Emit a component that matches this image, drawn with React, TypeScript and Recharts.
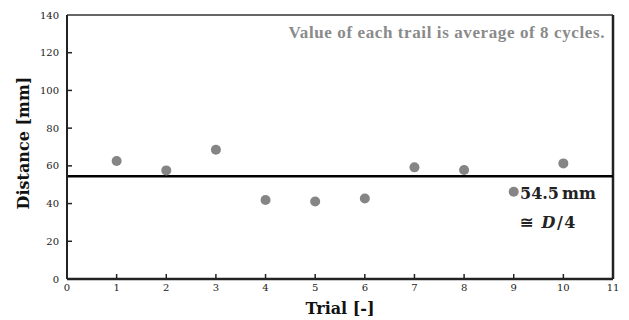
import React from 'react';
import { ScatterChart, Scatter, XAxis, YAxis, ReferenceLine } from 'recharts';

// Trial numbers and averaged distance per trial [mm]
const trials = [1, 2, 3, 4, 5, 6, 7, 8, 9, 10];
const distances = [62.6, 57.6, 68.5, 41.9, 41.1, 42.7, 59.2, 57.8, 46.3, 61.3];

const xTicks = [0, 1, 2, 3, 4, 5, 6, 7, 8, 9, 10, 11];
const yTicks = [0, 20, 40, 60, 80, 100, 120, 140];

const meanDistance = 54.5;
const noteText = 'Value of each trail is average of 8 cycles.';
const xTitle = 'Trial [-]';
const yTitle = 'Distance [mm]';

const data = trials.map((t, i) => ({ trial: t, distance: distances[i] }));

const TICK_FONT = '"DejaVu Serif", serif';
const LABEL_FONT = '"DejaVu Serif", serif';

const XTick = (props: any) => {
  const { x, y, payload } = props;
  return (
    <g>
      {payload.value !== 0 && payload.value !== 11 && (
        <line x1={x} x2={x} y1={y} y2={y - 5} stroke="#222" strokeWidth={1.5} />
      )}
      <text x={x} y={y + 12} textAnchor="middle" fontFamily={TICK_FONT} fontSize={10} fill="#222">
        {payload.value}
      </text>
    </g>
  );
};

const YTick = (props: any) => {
  const { x, y, payload } = props;
  return (
    <g>
      {payload.value !== 0 && payload.value !== 140 && (
        <line x1={x} x2={x + 5} y1={y} y2={y} stroke="#222" strokeWidth={1.5} />
      )}
      <text x={x - 8} y={y} dy="0.35em" textAnchor="end" fontFamily={TICK_FONT} fontSize={10} fill="#222">
        {payload.value}
      </text>
    </g>
  );
};

const Dot = (props: any) => <circle cx={props.cx} cy={props.cy} r={5} fill="#858585" />;

export default function App() {
  return (
    <div style={{ position: 'absolute', left: 0, top: 0, background: '#fff' }}>
      <ScatterChart width={629} height={320} margin={{ top: 15, right: 16, bottom: 0, left: 0 }}>
        <XAxis
          type="number"
          dataKey="trial"
          domain={[0, 11]}
          ticks={xTicks}
          interval={0}
          height={41}
          tickLine={false}
          tickSize={0}
          tickMargin={0}
          tick={<XTick />}
          axisLine={{ stroke: '#222', strokeWidth: 2.5 }}
          label={{
            content: () => (
              <text x={340} y={314} textAnchor="middle" fontFamily={LABEL_FONT} fontWeight="bold" fontSize={16} fill="#111">
                {xTitle}
              </text>
            ),
          }}
        />
        <YAxis
          type="number"
          dataKey="distance"
          domain={[0, 140]}
          ticks={yTicks}
          interval={0}
          width={67}
          tickLine={false}
          tickSize={0}
          tickMargin={0}
          tick={<YTick />}
          axisLine={{ stroke: '#222', strokeWidth: 2 }}
          label={{
            content: () => (
              <text
                x={23}
                y={143}
                transform="rotate(-90, 23, 143)"
                dy="0.35em"
                textAnchor="middle"
                fontFamily={LABEL_FONT}
                fontWeight="bold"
                fontSize={16}
                fill="#111"
              >
                {yTitle}
              </text>
            ),
          }}
        />
        {/* frame: top and right edges of the plot */}
        <ReferenceLine
          y={140}
          stroke="#333"
          strokeWidth={1.5}
          label={(p: any) => {
            const vb = p.viewBox;
            return (
              <text
                x={vb.x + vb.width - 8}
                y={vb.y + 23}
                textAnchor="end"
                fontFamily='"Liberation Serif", serif'
                fontWeight="bold"
                fontSize={17}
                letterSpacing={0.6}
                fill="#8a8a8a"
              >
                {noteText}
              </text>
            );
          }}
        />
        <ReferenceLine x={11} stroke="#222" strokeWidth={2.5} />
        <ReferenceLine
          y={meanDistance}
          stroke="#000"
          strokeWidth={2.5}
          label={(p: any) => {
            const vb = p.viewBox;
            return (
              <g fontFamily={LABEL_FONT} fontWeight="bold" fontSize={16} fill="#222">
                <text x={520} y={vb.y + 23}>
                  {meanDistance}
                  <tspan dx={3}>mm</tspan>
                </text>
                <text x={520} y={vb.y + 52} letterSpacing={1.5}>
                  {'≅ '}
                  <tspan fontStyle="italic">D</tspan>/4
                </text>
              </g>
            );
          }}
        />
        <Scatter data={data} shape={<Dot />} isAnimationActive={false} />
      </ScatterChart>
    </div>
  );
}
